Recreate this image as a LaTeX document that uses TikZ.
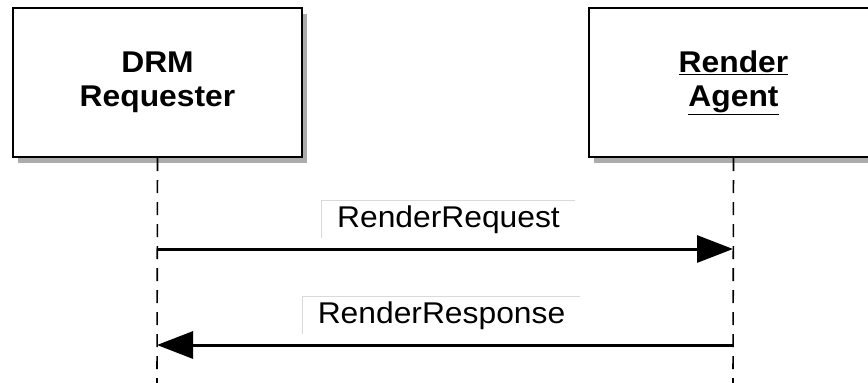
\documentclass[tikz,border=0pt]{standalone}
\usepackage{fontspec}
\setmainfont[FakeStretch=1.06]{Liberation Sans}
\usetikzlibrary{arrows.meta,shadows}

\tikzset{
  actorbox/.style={draw, line width=2pt, fill=white,
    minimum width=289pt, minimum height=149pt, inner sep=0pt,
    align=center, font=\fontsize{30}{34}\selectfont\bfseries,
    drop shadow={shadow xshift=5pt, shadow yshift=-6pt, fill=gray!65, opacity=1}},
  lifeline/.style={line width=1.6pt, dash pattern=on 13pt off 9pt},
  msg/.style={line width=3pt, -{Triangle[length=36pt,width=27pt]}},
  msglabel/.style={inner sep=0pt, minimum height=37pt,
    font=\fontsize{30}{34}\selectfont},
  labelframe/.style={draw=gray!30, line width=1pt}
}

\begin{document}
\begin{tikzpicture}[x=1pt,y=-1pt]

\useasboundingbox (0,0) rectangle (868,383);
\clip (0,0) rectangle (868,383);

% DRM Requester
\node[actorbox] (requester) at (157.5,82.5) {DRM\\Requester};

% Render Agent
\node[actorbox] (agent) at (733.5,82.5) {\underline{Render}\\\underline{Agent}};

% lifelines
\coordinate (requesterEnd) at (157,383);
\coordinate (agentEnd) at (733,383);
\draw[lifeline] (requester.south) -- (requesterEnd);
\draw[lifeline] (agent.south) -- (agentEnd);

% RenderRequest
\coordinate (reqFrom) at (157,249);
\coordinate (reqTo) at (733,249);
\draw[msg] (reqFrom) -- (reqTo);

\node[msglabel, minimum width=253pt] (reqLabel) at (448.5,219.5) {RenderRequest};
\draw[labelframe] (reqLabel.south west) |- (reqLabel.north east);

% RenderResponse
\coordinate (respFrom) at (733,345);
\coordinate (respTo) at (157,345);
\draw[msg] (respFrom) -- (respTo);

\node[msglabel, minimum width=277pt] (respLabel) at (441.5,315.5) {RenderResponse};
\draw[labelframe] (respLabel.south west) |- (respLabel.north east);

\end{tikzpicture}
\end{document}
